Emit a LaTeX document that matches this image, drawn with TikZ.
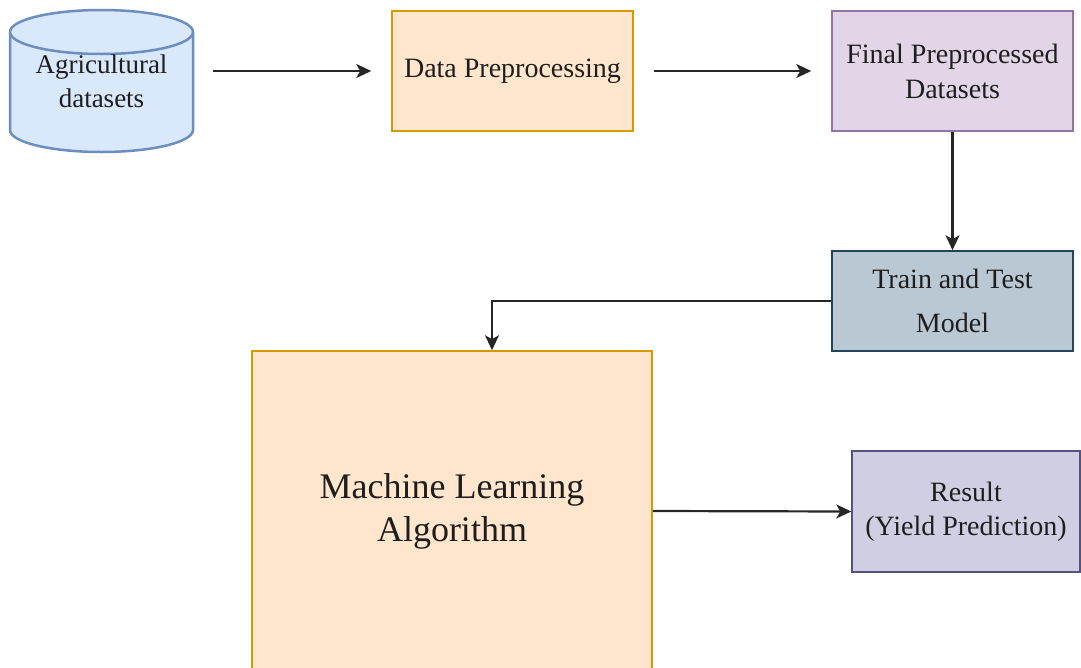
\documentclass[tikz,border=0pt]{standalone}
\usepackage{fontspec}
\setmainfont{Liberation Serif}
\usetikzlibrary{arrows.meta}
\definecolor{cylfill}{HTML}{DAE8FC}
\definecolor{cylline}{HTML}{6C8EBF}
\definecolor{orfill}{HTML}{FFE6CC}
\definecolor{orline}{HTML}{D79B00}
\definecolor{pufill}{HTML}{E1D5E7}
\definecolor{puline}{HTML}{9673A6}
\definecolor{trfill}{HTML}{BAC8D3}
\definecolor{trline}{HTML}{23445D}
\definecolor{refill}{HTML}{D0CEE2}
\definecolor{reline}{HTML}{56517E}
\definecolor{txt}{HTML}{1E1E1E}
\begin{document}
\begin{tikzpicture}[x=1pt,y=-1pt,
  box/.style={draw, line width=1.5pt, inner sep=0pt, align=center, text=txt,
    font=\fontsize{28}{35}\selectfont},
  arr/.style={-{Stealth[length=15pt,width=14pt,inset=4pt]}, line width=2.2pt, draw=black!85}]
\useasboundingbox (0,0) rectangle (1081,667);
\clip (0,0) rectangle (1081,667);
% cylinder
\fill[cylfill] (10,32) rectangle (193,130);
\fill[cylfill] (101.5,130) ellipse [x radius=91.5, y radius=22];
\draw[cylline, line width=2.5pt] (10,32) -- (10,130) arc [start angle=180, end angle=0, x radius=91.5, y radius=22] -- (193,32);
\draw[cylline, line width=2.5pt, fill=cylfill] (101.5,32) ellipse [x radius=91.5, y radius=22];
\node[align=center, text=txt, font=\fontsize{27}{34}\selectfont, minimum width=183pt, minimum height=142pt, inner sep=0pt] (cyl) at (101.5,81) {Agricultural\\datasets};
% boxes
\node[box, fill=orfill, draw=orline, minimum width=241pt, minimum height=120pt] (prep) at (512.5,71) {Data Preprocessing};
\node[box, fill=pufill, draw=puline, minimum width=241pt, minimum height=120pt] (final) at (952.5,71) {Final Preprocessed\\Datasets};
\node[box, fill=trfill, draw=trline, minimum width=241pt, minimum height=100pt, font=\fontsize{28}{44}\selectfont] (train) at (952.5,301) {Train and Test\\Model};
\node[box, fill=orfill, draw=orline, minimum width=400pt, minimum height=320pt, font=\fontsize{36}{43}\selectfont] (ml) at (452,511) {Machine Learning\\Algorithm};
\node[box, fill=refill, draw=reline, minimum width=228pt, minimum height=121pt, font=\fontsize{28}{34}\selectfont] (result) at (966,511.5) {Result\\(Yield Prediction)};
% connectors
\draw[arr, shorten <=20pt, shorten >=20pt] (cyl.east |- prep.west) -- (prep.west);
\draw[arr, shorten <=20pt, shorten >=20pt] (prep.east) -- (final.west);
\draw[arr] (final.south) -- (train.north);
\draw[arr] (train.west) -| ([xshift=40pt]ml.north);
\draw[arr] (ml.east) -- (result.west);
\end{tikzpicture}
\end{document}
